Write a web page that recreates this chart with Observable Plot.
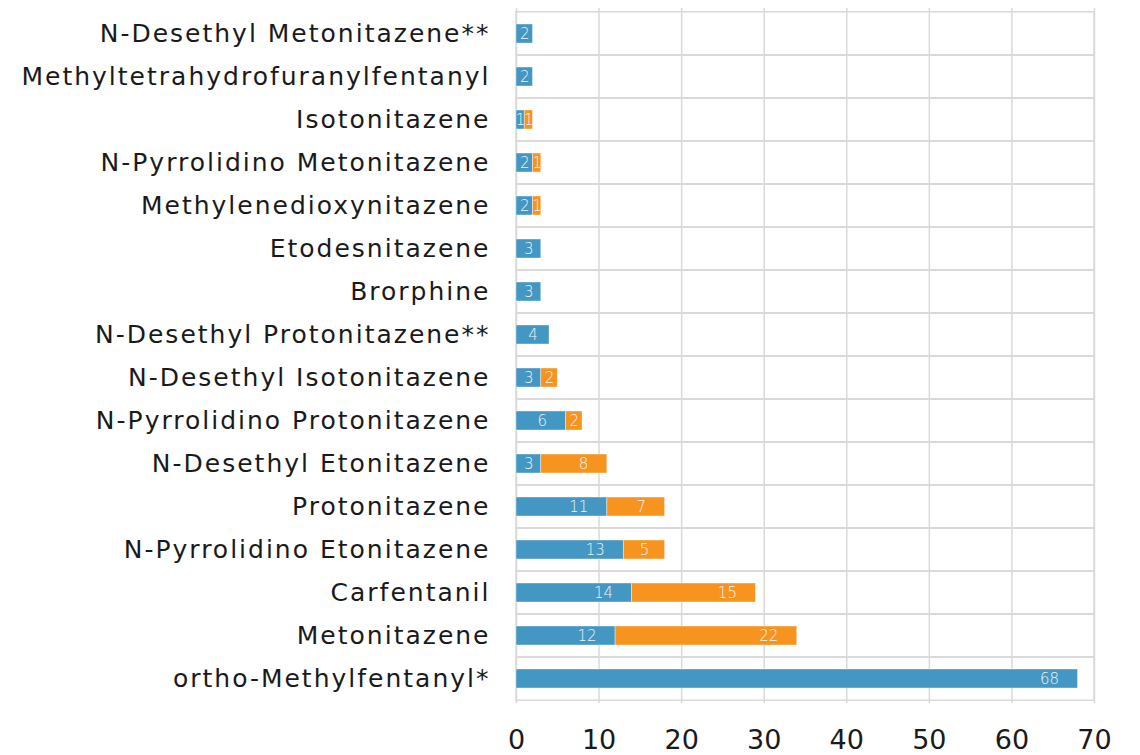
<!DOCTYPE html>
<html>
<head>
<meta charset="utf-8">
<script src="https://cdn.jsdelivr.net/npm/d3@7"></script>
<script src="https://cdn.jsdelivr.net/npm/@observablehq/plot@0.6"></script>
<style>
  html, body { margin: 0; padding: 0; background: #fff; }
  #chart svg { display: block; }
</style>
</head>
<body>
<div id="chart"></div>
<script>
const categories = [
  "N-Desethyl Metonitazene**",
  "Methyltetrahydrofuranylfentanyl",
  "Isotonitazene",
  "N-Pyrrolidino Metonitazene",
  "Methylenedioxynitazene",
  "Etodesnitazene",
  "Brorphine",
  "N-Desethyl Protonitazene**",
  "N-Desethyl Isotonitazene",
  "N-Pyrrolidino Protonitazene",
  "N-Desethyl Etonitazene",
  "Protonitazene",
  "N-Pyrrolidino Etonitazene",
  "Carfentanil",
  "Metonitazene",
  "ortho-Methylfentanyl*"
];
const seriesNames = ["Series 1", "Series 2"];
const series1 = [2, 2, 1, 2, 2, 3, 3, 4, 3, 6, 3, 11, 13, 14, 12, 68];
const series2 = [0, 0, 1, 1, 1, 0, 0, 0, 2, 2, 8, 7, 5, 15, 22, 0];
const xTicks = [0, 10, 20, 30, 40, 50, 60, 70];
const colors = ["#4397c2", "#f7941f"];

const segments = [];
categories.forEach((c, i) => {
  const vals = [series1[i], series2[i]];
  let start = 0;
  vals.forEach((v, k) => {
    if (v > 0) {
      segments.push({category: c, series: seriesNames[k], value: v, x1: start, x2: start + v});
    }
    start += v;
  });
});

const W = 1140, H = 755;
const mTop = 8, mBottom = 52, mLeft = 516, mRight = 46;
const step = (H - mTop - mBottom) / categories.length;
const pInner = 1 - 19 / step;
const gap = (step - 19) / 2;

const font = "DejaVu Sans, sans-serif";

const chart = Plot.plot({
  width: W,
  height: H,
  marginTop: mTop,
  marginBottom: mBottom,
  marginLeft: mLeft,
  marginRight: mRight,
  style: {fontFamily: font, color: "#1a1a1a", background: "#fff"},
  x: {domain: [0, 70], ticks: xTicks, label: null},
  y: {domain: categories, paddingInner: pInner, paddingOuter: pInner / 2, label: null},
  color: {domain: seriesNames, range: colors},
  marks: [
    Plot.barX(categories, {
      y: d => d, x1: 0, x2: 70,
      fill: "none", stroke: "#d9d9d9", strokeWidth: 1.5,
      insetTop: -gap, insetBottom: -gap
    }),
    Plot.ruleX(xTicks, {stroke: "#d9d9d9", strokeWidth: 1.5}),
    Plot.barX(segments, {
      y: "category", x1: "x1", x2: "x2", fill: "series",
      stroke: "#ffffff", strokeOpacity: 0.5, strokeWidth: 0.8
    }),
    Plot.text(segments.filter(d => d.value < 6), {
      y: "category", x: d => (d.x1 + d.x2) / 2,
      text: d => String(d.value), fill: "#eef4f8",
      fontSize: 15, fontWeight: 300, textAnchor: "middle"
    }),
    Plot.text(segments.filter(d => d.value >= 6), {
      y: "category", x: "x2", dx: -19,
      text: d => String(d.value), fill: "#eef4f8",
      fontSize: 15, fontWeight: 300, textAnchor: "end"
    }),
    Plot.axisX({
      ticks: xTicks, tickSize: 0, tickPadding: 26, fontSize: 27,
      tickFormat: d => String(d), label: null, fill: "#1a1a1a"
    }),
    Plot.axisY({
      tickSize: 0, tickPadding: 26, fontSize: 25, label: null, fill: "#1a1a1a"
    })
  ]
});

document.getElementById("chart").appendChild(chart);
d3.select(chart).selectAll('g[aria-label="y-axis tick label"] text')
  .attr("letter-spacing", "2px");
</script>
</body>
</html>
